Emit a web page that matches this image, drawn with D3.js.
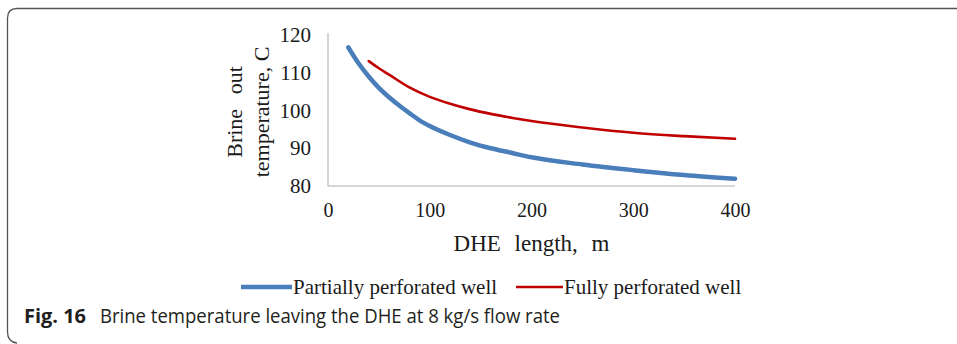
<!DOCTYPE html>
<html>
<head>
<meta charset="utf-8">
<script src="https://cdn.jsdelivr.net/npm/d3@7"></script>
<style>
    html, body { margin: 0; padding: 0; background: #fff; }
    svg { display: block; }
</style>
</head>
<body>
<svg id="chart" width="957" height="344"></svg>
<script>
"use strict";

// DHE length, m
const partialLength = [20, 30, 40, 50, 60, 70, 80, 90, 100, 120, 140, 160, 180, 200, 250, 300, 350, 400];
// Brine out temperature, C
const partialTemp = [116.7, 112.5, 109, 106, 103.5, 101.3, 99.3, 97.4, 95.9, 93.5, 91.5, 90, 88.8, 87.6, 85.7, 84.2, 82.9, 81.9];

const fullLength = [40, 50, 60, 80, 100, 120, 140, 160, 180, 200, 250, 300, 350, 400];
const fullTemp = [113.1, 111.2, 109.5, 106.1, 103.6, 101.8, 100.3, 99.1, 98.1, 97.2, 95.5, 94.1, 93.2, 92.5];

const xTicks = [0, 100, 200, 300, 400];
const yTicks = [80, 90, 100, 110, 120];

const seriesNames = ['Partially perforated well', 'Fully perforated well'];
const seriesColors = ['#4a7ebb', '#c00000'];
const seriesWidths = [4.5, 2.6];

const serif = '"Liberation Serif", "Times New Roman", serif';

function drawFrame(svg) {
    // rounded panel border, open on the right
    svg.append('path')
        .attr('d', 'M957,8.5 L17,8.5 Q7.5,8.5 7.5,18 L7.5,332 Q7.5,342 17,343')
        .attr('fill', 'none')
        .attr('stroke', '#555')
        .attr('stroke-width', 1.3);
}

function drawChart(svg) {
    const x = d3.scaleLinear().domain([0, 400]).range([328, 735]);
    const y = d3.scaleLinear().domain([80, 120]).range([186, 35]);

    // axis lines
    svg.append('line')
        .attr('x1', x(0)).attr('x2', x(0))
        .attr('y1', y(120) - 2).attr('y2', y(80))
        .attr('stroke', '#c8c8c8').attr('stroke-width', 1.5);
    svg.append('line')
        .attr('x1', x(0)).attr('x2', x(400))
        .attr('y1', y(80)).attr('y2', y(80))
        .attr('stroke', '#c8c8c8').attr('stroke-width', 1.5);

    const yAxis = d3.axisLeft(y).tickValues(yTicks).tickSize(0).tickPadding(17);
    svg.append('g')
        .attr('transform', `translate(${x(0)},0)`)
        .call(yAxis)
        .call(g => g.select('.domain').remove())
        .selectAll('text')
        .attr('font-family', serif)
        .attr('font-size', 21)
        .attr('fill', '#1a1a1a');

    const xAxis = d3.axisBottom(x).tickValues(xTicks).tickSize(0).tickPadding(17);
    svg.append('g')
        .attr('transform', `translate(0,${y(80)})`)
        .call(xAxis)
        .call(g => g.select('.domain').remove())
        .selectAll('text')
        .attr('font-family', serif)
        .attr('font-size', 20)
        .attr('fill', '#1a1a1a');

    // y axis title, two lines
    const yTitle = svg.append('text')
        .attr('transform', 'translate(242,112) rotate(-90)')
        .attr('text-anchor', 'middle')
        .attr('font-family', serif)
        .attr('font-size', 22)
        .attr('fill', '#1a1a1a');
    yTitle.append('tspan').attr('x', 0).attr('dy', 0)
        .attr('word-spacing', 9).text('Brine out');
    yTitle.append('tspan').attr('x', 0).attr('dy', 27).text('temperature, C');

    svg.append('text')
        .attr('x', (x(0) + x(400)) / 2)
        .attr('y', 251)
        .attr('text-anchor', 'middle')
        .attr('font-family', serif)
        .attr('font-size', 23)
        .attr('word-spacing', 8)
        .attr('fill', '#1a1a1a')
        .text('DHE length, m');

    const line = d3.line()
        .x(d => x(d[0]))
        .y(d => y(d[1]))
        .curve(d3.curveMonotoneX);

    const series = [
        d3.zip(partialLength, partialTemp),
        d3.zip(fullLength, fullTemp)
    ];

    svg.selectAll('path.series')
        .data(series)
        .join('path')
        .attr('class', 'series')
        .attr('d', line)
        .attr('fill', 'none')
        .attr('stroke', (d, i) => seriesColors[i])
        .attr('stroke-width', (d, i) => seriesWidths[i])
        .attr('stroke-linecap', 'round')
        .attr('stroke-linejoin', 'round');
}

function drawLegend(svg) {
    const starts = [241, 516];
    const lens = [51, 47];
    const legend = svg.append('g');
    seriesNames.forEach((name, i) => {
        const g = legend.append('g').attr('transform', `translate(${starts[i]},287)`);
        g.append('line')
            .attr('x1', 0).attr('x2', lens[i])
            .attr('y1', 0).attr('y2', 0)
            .attr('stroke', seriesColors[i])
            .attr('stroke-width', seriesWidths[i]);
        g.append('text')
            .attr('x', lens[i] + 1)
            .attr('y', 7)
            .attr('font-family', serif)
            .attr('font-size', 21)
            .attr('fill', '#1a1a1a')
            .text(name);
    });
}

function drawCaption(svg) {
    const font = '"Open Sans", "Noto Sans", sans-serif';
    svg.append('text')
        .attr('x', 24)
        .attr('y', 323)
        .attr('font-family', font)
        .attr('font-size', 19.5)
        .attr('font-weight', 'bold')
        .attr('fill', '#231f20')
        .attr('textLength', 62)
        .attr('lengthAdjust', 'spacingAndGlyphs')
        .text('Fig. 16');
    svg.append('text')
        .attr('x', 100)
        .attr('y', 323)
        .attr('font-family', font)
        .attr('font-size', 19.5)
        .attr('fill', '#231f20')
        .attr('textLength', 460)
        .attr('lengthAdjust', 'spacingAndGlyphs')
        .text('Brine temperature leaving the DHE at 8 kg/s flow rate');
}

const svg = d3.select('#chart');
drawFrame(svg);
drawChart(svg);
drawLegend(svg);
drawCaption(svg);
</script>
</body>
</html>
